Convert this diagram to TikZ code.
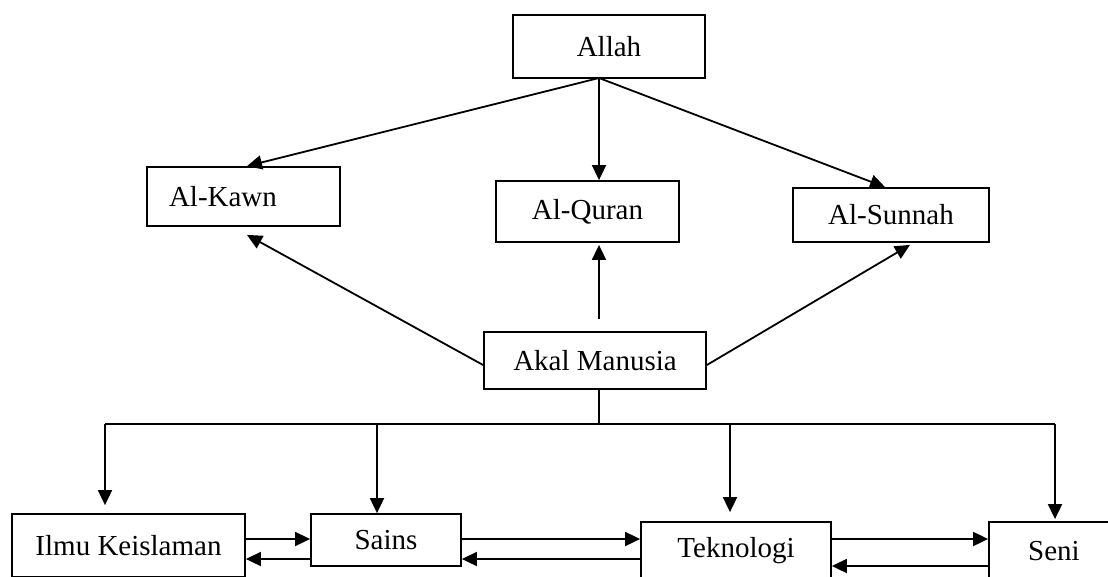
\documentclass[tikz,border=0pt]{standalone}
\usepackage{fontspec}
\setmainfont{Liberation Serif}
\usetikzlibrary{arrows.meta,calc}
\begin{document}
\begin{tikzpicture}[x=1pt,y=-1pt,
  box/.style={draw,line width=1.8pt,inner sep=0pt,font=\fontsize{29}{34}\selectfont},
  arr/.style={line width=1.8pt,-{Triangle[length=15pt,width=14pt]}},
  ln/.style={line width=1.8pt}]
\useasboundingbox (0,0) rectangle (1108,576);
\clip (0,0) rectangle (1108,576);
% nodes
\node[box,minimum width=192pt,minimum height=63pt] (Allah) at (609,46.5) {Allah};
\node[box,minimum width=193pt,minimum height=59pt,text width=149pt,align=left,inner xsep=22pt] (Kawn) at (243.5,196.5) {Al-Kawn};
\node[box,minimum width=183pt,minimum height=61pt] (Quran) at (587.5,211.5) {Al-Quran};
\node[box,minimum width=196pt,minimum height=54pt] (Sunnah) at (891,215) {Al-Sunnah};
\node[box,minimum width=222pt,minimum height=57pt] (Akal) at (595,360.5) {Akal Manusia};
\node[box,minimum width=233pt,minimum height=63pt] (Ilmu) at (128.5,545.5) {Ilmu Keislaman};
\node[box,minimum width=150pt,minimum height=52pt] (Sains) at (386,540) {Sains};
\node[box,minimum width=190pt,minimum height=58pt] (Tekno) at (736,551) {Teknologi};
\node[box,minimum width=130pt,minimum height=58pt] (Seni) at (1054,551) {Seni};
% helper coordinates
\coordinate (aS) at (599,78);
\coordinate (bus) at (599,424);
\coordinate (busL) at (105,424);
\coordinate (busS) at (377,424);
\coordinate (busT) at (730,424);
\coordinate (busR) at (1055,424);
% Allah to sources
\draw[arr] (aS) -- ($(Kawn.north)+(3.5,0)$);
\draw[arr] (aS) -- (aS |- Quran.north);
\draw[arr] (aS) -- ($(Sunnah.north)+(-6,0)$);
% Akal to sources
\draw[arr] ($(Akal.west)+(0,4.5)$) -- ($(Kawn.south)+(3.5,8)$);
\draw[arr] ($(Akal.north)+(4,-12)$) -- ($(Quran.south)+(11.5,2)$);
\draw[arr] ($(Akal.east)+(0,4.5)$) -- ($(Sunnah.south)+(19,2)$);
% bus
\draw[ln] ($(Akal.south)+(4,0)$) -- (bus);
\draw[ln] (busL) -- (busR);
\draw[arr] (busL) -- ($(Ilmu.north)+(-23.5,-8)$);
\draw[arr] (busS) -- ($(Sains.north)+(-9,0)$);
\draw[arr] (busT) -- ($(Tekno.north)+(-6,-9)$);
\draw[arr] (busR) -- ($(Seni.north)+(1,-2)$);
% horizontal links
\draw[arr] (Ilmu.east |- 0,539) -- (Sains.west |- 0,539);
\draw[arr] (Sains.west |- 0,559) -- (Ilmu.east |- 0,559);
\draw[arr] (Sains.east |- 0,539) -- (Tekno.west |- 0,539);
\draw[arr] (Tekno.west |- 0,559) -- (Sains.east |- 0,559);
\draw[arr] (Tekno.east |- 0,539) -- (Seni.west |- 0,539);
\draw[arr] (Seni.west |- 0,566) -- (Tekno.east |- 0,566);
\end{tikzpicture}
\end{document}
